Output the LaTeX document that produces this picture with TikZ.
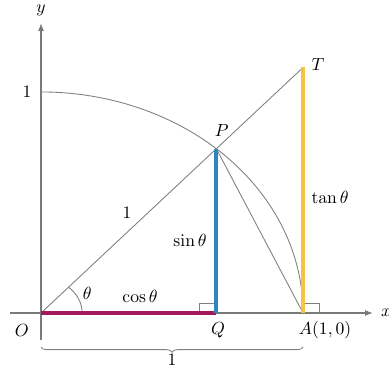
\documentclass[tikz,border=0pt]{standalone}
\usepackage{amsmath}
\usepackage{xcolor}
\usepackage{tikz}
\usetikzlibrary{arrows.meta,positioning,calc,decorations.pathreplacing}
\definecolor{CosRed}{HTML}{A3195B}
\definecolor{SinBlue}{HTML}{2F86BF}
\definecolor{TanGold}{HTML}{F6C443}
\definecolor{AxisGray}{HTML}{7A7A7A}

\begin{document}
\begin{tikzpicture}[x=5.24cm,y=4.42cm,
  axis/.style={-{Latex[length=1.6mm,width=1.2mm]},line width=0.7pt,color=AxisGray},
  gline/.style={line width=0.5pt,color=gray},
  seg/.style={line width=2.2pt},
  lbl/.style={inner sep=1pt,font=\normalsize,text=black}]
\useasboundingbox (-0.1565,-0.2624) rectangle (1.328,1.416);
\coordinate (O) at (0,0);
\coordinate (A) at (1,0);
\coordinate (P) at ({cos(48)},{sin(48)});
\coordinate (Q) at ({cos(48)},0);
\coordinate (T) at (1,{tan(48)});
\coordinate (xs) at (-0.118,0);
\coordinate (xe) at (1.267,0);
\coordinate (ys) at (0,-0.122);
\coordinate (ye) at (0,1.312);
% axes and unit circle
\draw[axis] (xs) -- (xe);
\draw[axis] (ys) -- (ye);
\draw[gline] plot[domain=90:0,samples=60,smooth] ({cos(\x)},{sin(\x)});
\draw[gline] (O) -- (T);
\draw[gline] (P) -- (A);
% right angles
\draw[gline] ($(Q)+(-0.063,0)$) |- ($(Q)+(0,0.045)$);
\draw[gline] ($(A)+(0.063,0)$) |- ($(A)+(0,0.045)$);
% angle theta
\draw[gline] (0.157,0) arc[start angle=0,end angle=48,x radius=0.157,y radius=0.157];
% coloured segments
\draw[seg,CosRed] (O) -- (Q);
\draw[seg,SinBlue] (Q) -- (P);
\draw[seg,TanGold] (A) -- (T);
% brace under OA
\draw[gline,decorate,decoration={brace,amplitude=3pt,mirror}] (0,-0.154) -- (1,-0.154) node[lbl,midway,below=3pt] (one) {$1$};
% labels
\node[lbl] (lx) at (1.317,0) {$x$};
\node[lbl] (ly) at (0,1.371) {$y$};
\node[lbl] (lO) at (-0.073,-0.077) {$O$};
\node[lbl] (lQ) at (0.676,-0.077) {$Q$};
\node[lbl] (lA) at (1.084,-0.077) {$A(1,0)$};
\node[lbl] (lP) at (0.69,0.824) {$P$};
\node[lbl] (lT) at (1.057,1.122) {$T$};
\node[lbl] (l1) at (-0.053,1) {$1$};
\node[lbl] (r1) at (0.328,0.452) {$1$};
\node[lbl] (th) at (0.176,0.09) {$\theta$};
\node[lbl] (cs) at (0.378,0.077) {$\cos\theta$};
\node[lbl] (sn) at (0.569,0.33) {$\sin\theta$};
\node[lbl] (tn) at (1.103,0.525) {$\tan\theta$};
\end{tikzpicture}
\end{document}
